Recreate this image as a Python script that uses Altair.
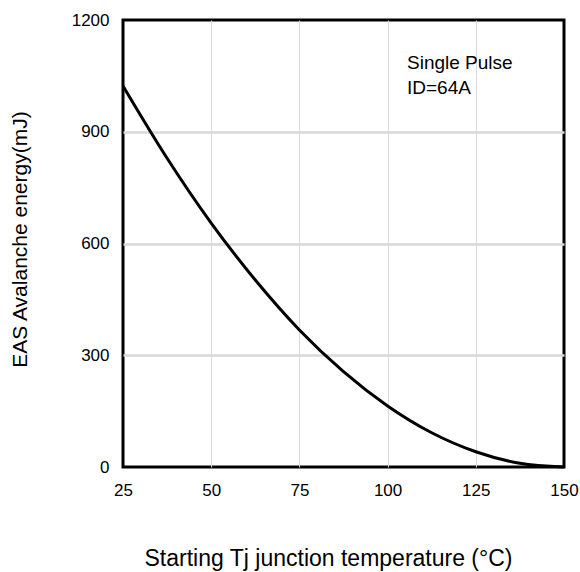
import altair as alt
import pandas as pd

temps = [25, 37.5, 50, 62.5, 75, 87.5, 100, 112.5, 125, 137.5, 150]
energy = [1023, 829, 655, 502, 368, 256, 164, 92, 41, 10, 0]

x_ticks = [25, 50, 75, 100, 125, 150]
y_ticks = [0, 300, 600, 900, 1200]

note_lines = ["Single Pulse", "ID=64A"]
note_x = [105.5, 105.5]
note_y = [1068, 1001]

FONT = "Liberation Sans"

df = pd.DataFrame({"T": temps, "E": energy})
notes = pd.DataFrame({"label": note_lines, "T": note_x, "E": note_y})

xscale = alt.Scale(domain=[25, 150], nice=False, zero=False)
yscale = alt.Scale(domain=[0, 1200], nice=False)

x_axis = alt.Axis(
    values=x_ticks, title="Starting Tj junction temperature (°C)", format="d",
    ticks=False, domain=False, labelFontSize=17, labelPadding=15,
    labelFont=FONT, labelColor="#000", titleFont=FONT, titleFontSize=23,
    titleFontWeight="normal", titleColor="#000",
    titleX=205, titleY=98, titleBaseline="alphabetic",
    gridColor="#d9d9d9", gridWidth=1,
    gridOpacity={"condition": {"test": "datum.value <= 25 || datum.value >= 150", "value": 0}, "value": 1},
    labelFlush=False,
)
y_axis = alt.Axis(
    values=y_ticks, title="EAS Avalanche energy(mJ)", format="d",
    ticks=False, domain=False, labelFontSize=17, labelPadding=14,
    labelFont=FONT, labelColor="#000", titleFont=FONT, titleFontSize=21,
    titleFontWeight="normal", titleColor="#000",
    titleX=-103, titleY=219, titleBaseline="middle", titleAngle=-90,
    gridColor="#d9d9d9", gridWidth=2.5,
    gridOpacity={"condition": {"test": "datum.value <= 0 || datum.value >= 1200", "value": 0}, "value": 1},
    labelFlush=False,
)

line = alt.Chart(df).mark_line(color="black", strokeWidth=3, interpolate="monotone").encode(
    x=alt.X("T:Q", scale=xscale, axis=x_axis),
    y=alt.Y("E:Q", scale=yscale, axis=y_axis),
)

text = alt.Chart(notes).mark_text(align="left", baseline="alphabetic", fontSize=19, font=FONT, color="black").encode(
    x=alt.X("T:Q", scale=xscale),
    y=alt.Y("E:Q", scale=yscale),
    text="label:N",
)

chart = (line + text).properties(
    width=441, height=447,
    autosize=alt.AutoSizeParams(type="none"),
    padding={"left": 123, "top": 20, "right": 16, "bottom": 105},
    background="white",
).configure_view(stroke="black", strokeWidth=3)

chart.save("out.html", embed_options={"renderer": "svg", "actions": False})
